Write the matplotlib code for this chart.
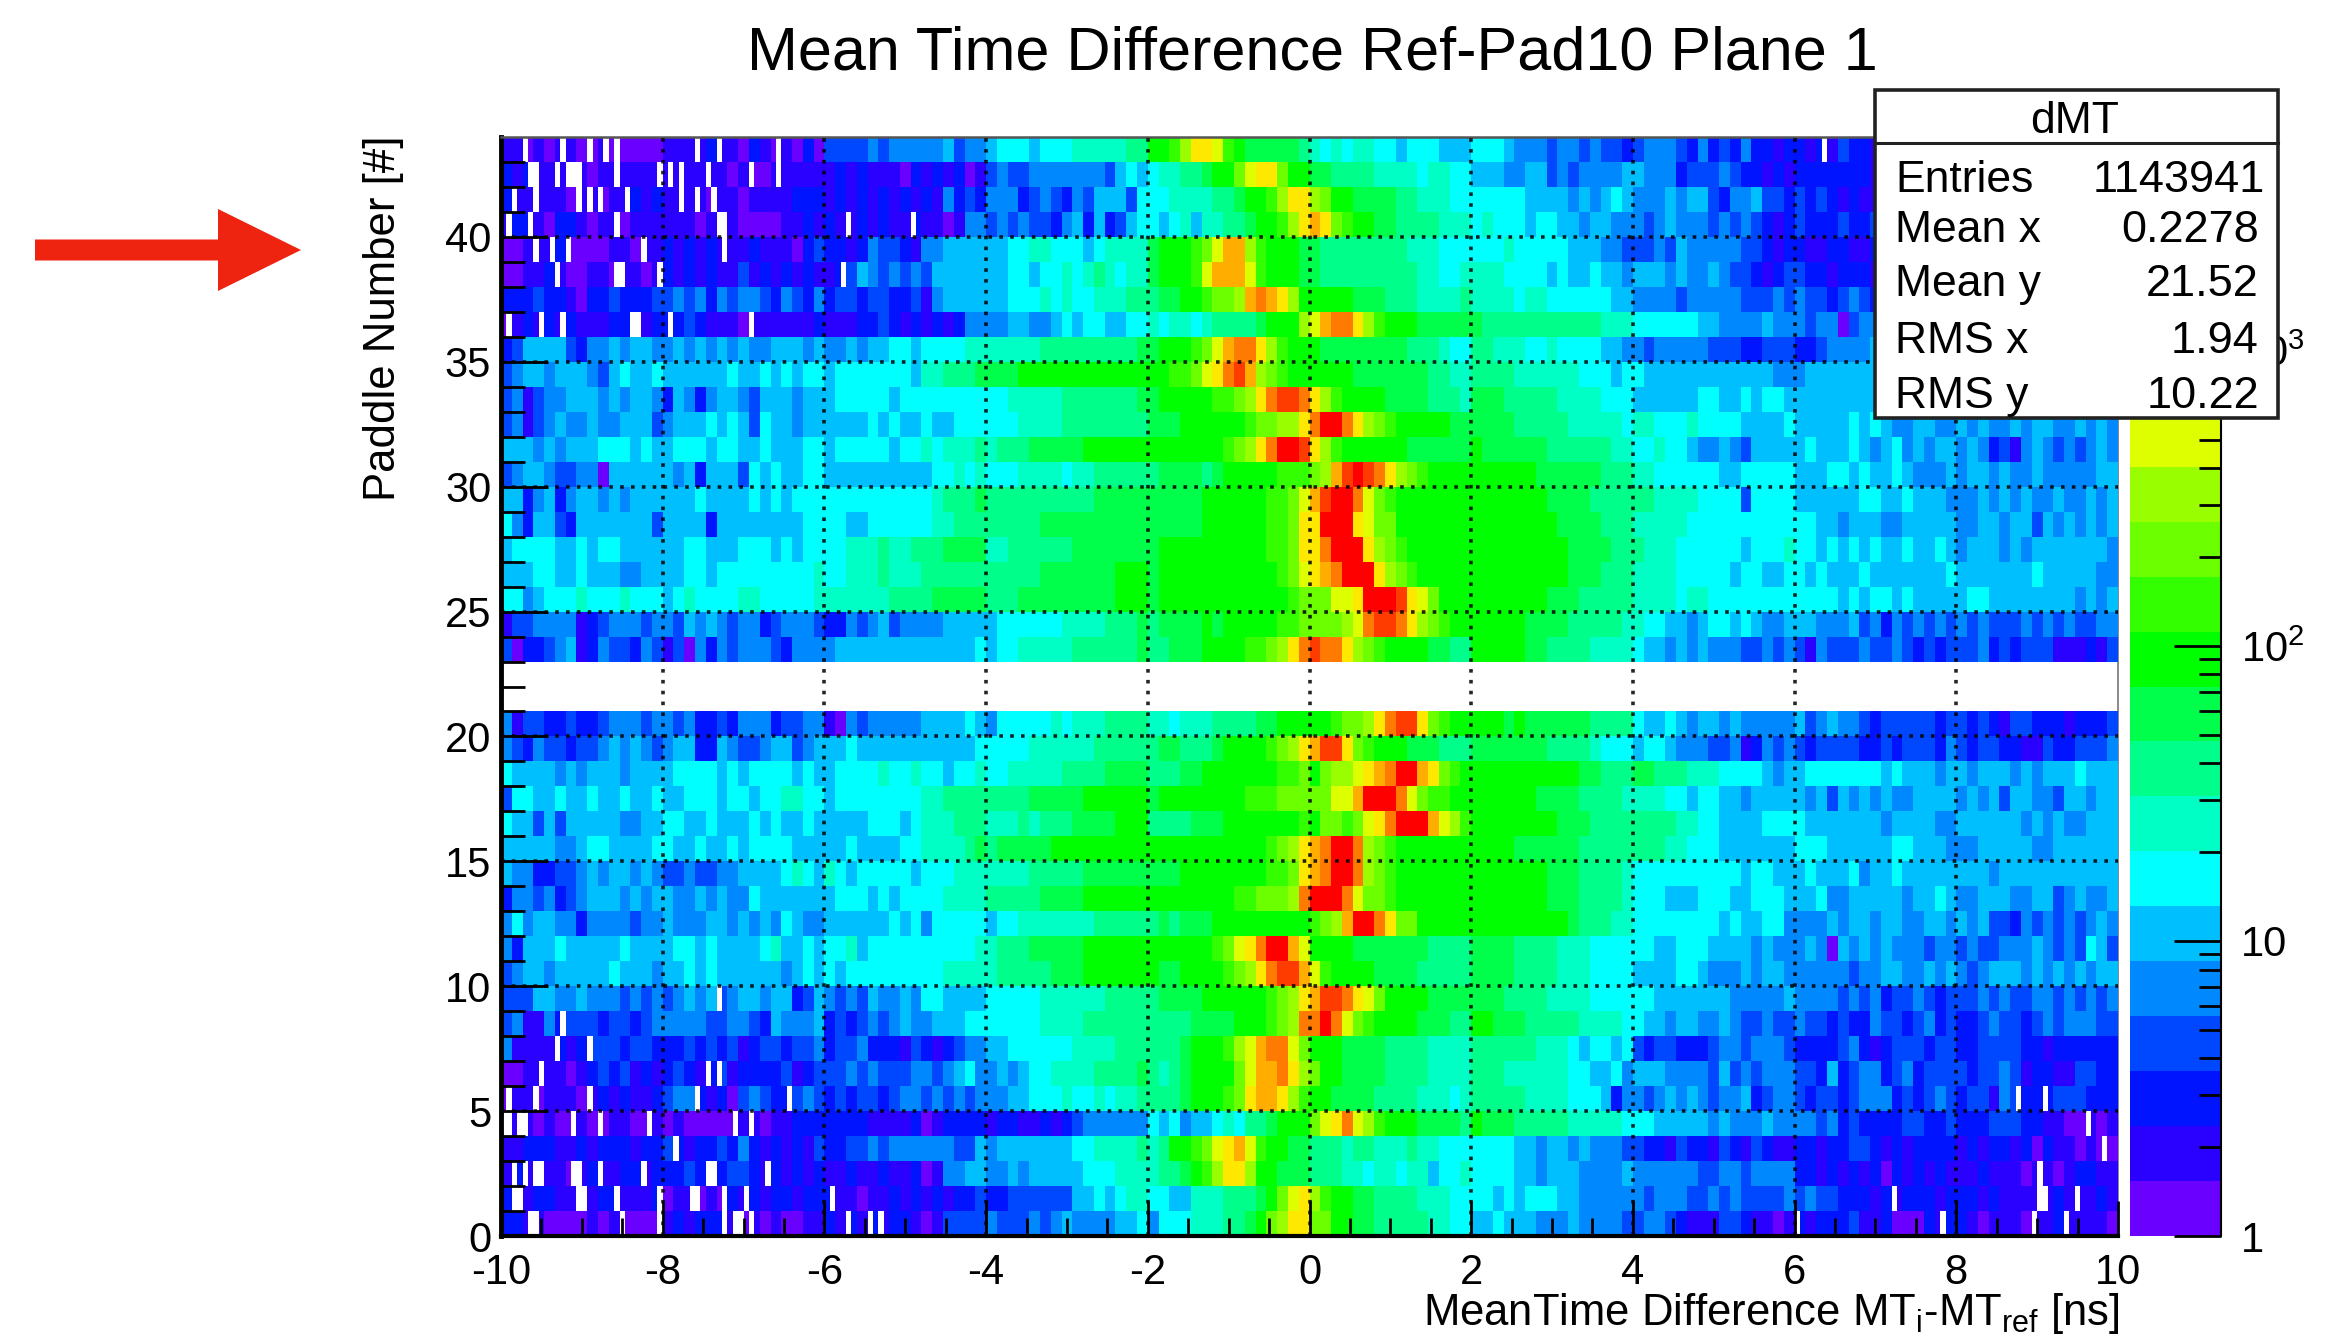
import numpy as np
import matplotlib
matplotlib.use("Agg")
import matplotlib.pyplot as plt
from matplotlib.colors import ListedColormap, BoundaryNorm
from matplotlib.patches import FancyArrow, Rectangle
from matplotlib.ticker import FixedLocator, NullFormatter

WIDTH, HEIGHT = 2346, 1335

plt.rcParams['font.family'] = ['Liberation Sans', 'DejaVu Sans']
plt.rcParams['mathtext.default'] = 'regular'
plt.rcParams['axes.unicode_minus'] = False

# Colour band of each cell. One string per paddle, from
# paddle 43 down to 0, one group per 2 ns. 0-9,a-j = band 0-19, . = empty
row_levels = [
    "110101100100000 111121102101020 333343444445344 566656667777788 aabdffeba999998 767677665666555 666544434434332 344432423242212 212132212121212 222222222222222",
    "212111110111111 111111010011111 121211102121201 343344444443565 677889aaceffcaa 998888777767766 555445534344445 544423334322121 222222212322222 222222222222222",
    "211111011011212 111101101111222 121212121214232 444234324355536 667777889aabdff dcaa99998877766 666665555454565 444545532445332 323212111211222 222222222222222",
    "122102210110111 111011100001121 211212112110144 343433245252356 656757788 9aabdf gfcbaa998888777 676665665545544 434544434343212 322232231121122 222222222222222",
    "001112000011011 212121112111023 221243321445555 556677666567777 9aaabcegg dbaaa9 988888888777666 666766666555443 334354444433212 211221122112222 222222222222222",
    "001121001101101 212121131212121 123543434355555 556656676787677 9aaabeggg ebaaa9 988888888877667 777666656556554 555454454332123 322122212222222 222222222222222",
    "222322102232223 343424344324324 233233223145555 556667676677788 899aabccdghgfda aaaa99988877778 777767766666655 444434444433343 433234322122222 222222222222222",
    "012121211122112 223211101111112 111223212121244 445544565665566 767767888 89aaad eghhfdbaaa99999 988888888888777 666666554444544 434403444444544 222222222222222",
    "235555324454554 454545454455545 445455665666677 777778888888889 9aaabcegh hfdbaa a99999999888766 887776676666554 434444433322333 223444453434444 222222222222222",
    "345545554356556 555555655656566 566666665778889 999aaaaaaaaaaaa aabbcefhigdcbaa aaaa99999998877 888877777766656 655555555555544 455555555555555 222222222222222",
    "341344555454554 254245543555455 566666566666666 667777788888889 9aaaaabbcdfhiih fdbaaaa99998887 999888887777666 555555665565665 555555555555555 444444444444444",
    "341345445445553 455565653655455 555565655655666 666777788888888 999aaaaaabccddf hjjhfdcbaaaaa99 999988888777776 776667666655556 555556565445544 545445455445454",
    "555454555666565 566656655655566 566666566767778 788899999aaaaaa aaaaaaabcdfhjji fdbaaaaaa999999 a99999988888877 667665445435555 565556545645455 454231454343454",
    "345543344055555 545255536565566 555555555566767 666777767788888 8999989aaaaabbb cdgijihfdcbaaaa aaaaaa999999888 776666665566666 555665655654445 455454454444455",
    "552452455454555 555655556565666 666666666678889 888888888899999 99999aaaaaabbce gijjhecbaaaaaaa aaaaaaa99998888 887777666636666 555555665565554 445454544544545",
    "642553255555553 555525555555566 665566666677888 888889999999999 99999aaaaaabbcf fjjjfeccaaaaaaa aaaaaaaa9999888 777776666666666 665545554455555 445545535454545",
    "566665565665555 556655566656566 667778778889999 778888889999999 9aaaaaaaaaabbcf fhjjjfdcbaaaaaa aaaaaaaaa999988 877766666656667 665656565565565 455545455555554",
    "555665565554455 556656666666667 667778777888888 888889999999aaa 9aaaaaaaaaaabce fghjjjfdcbaaaaa aaaaaaaaa999888 777766666566556 656555655555556 555555565555544",
    "664566676667666 567666677666667 777777888899999 888999999999aaa 9aaaaaaaaaaaabc cceefjjjifecaaa aaaaaaa99988888 777767766666666 666656566565555 566555555554545",
    "133444412344434 435454344234443 224345344445555 566666677778889 89999a9aaaaabbc cccdehiihfdcbaa aaaaa9999888887 766554566565445 554445342434343 434333434343344",
    "302234512433243 130424344432444 455555555555556 566777778888889 88999aaaabbcdfh ihhfdcbaaaa9988 aaaaa9988887777 655454544433434 314333433432323 334232333111213",
    "............... ............... ............... ............... ............... ............... ............... ............... ............... ...............",
    "............... ............... ............... ............... ............... ............... ............... ............... ............... ...............",
    "413322322344434 434223244423344 104344444555565 466666767778888 776777888899aaa aabccdfhiifcbaa aaa9a9999998888 655654554544444 534544323333323 323213322212223",
    "432433233454543 455225433455345 556555555555556 666677777788888 8998889aaaabcdf giifcbaaa999888 999999988887666 566544433412434 323333223233324 323322113223334",
    "655554545554555 566665656666565 566667667665667 667777788889999 88899aaaaaaabbc acddefghjjgfcba aaaaaaaaaa99888 998887776666545 566666665655545 545554545556555",
    "366556556556556 556665665667766 566666666778888 888899999aaaaaa 9aaaaaaaabbbccc cceegjjjhecbbaa aaaaaa999988887 777665665545555 545354545445555 454535544355455",
    "655353555554455 665565556565565 555566656777888 777878889999aaa 8888999aaaaaaab accbcefhjjjgedb aaaaaaaa9998888 888877665555666 655555554555544 555555454544555",
    "555554456655556 655655656666555 556555566777789 899999aaaaaaaaa aaaaaaaaaaabcdf ghjjhdcbaaaaaaa aaaa99999988888 888776665555555 666555555665554 445555544555555",
    "544223345455454 334334455556765 765666665666777 777788888999999 999aaaaaaaabbcf ghjjhdcbaaaaaaa aaaaaaa99988887 666666666656655 565556455655555 555455555555555",
    "244342345554545 544545446555555 566656566667777 888889999aaaaaa aaaaaaaabbcccdh jjjhecc baaaaaaa aaaaaaa99988887 666555666556665 556445555545565 445554455345445",
    "464554424444344 544455454546544 555555656466666 566777777788888 898999aaaaaaaaa bcdgjjhfccaaaaa aaaaaaaaa988877 666666665655664 444545545544554 545332434343454",
    "425556555556555 566565555675565 667566666666667 788899999aaaaaa aaaaaabcefhjjge aaaa99999998888 999988887776666 665566655554544 454054545444344 343344454343653",
    "345545555565554 556565555554565 656666666667777 788888999aaaaaa a99aaaabcdfhiig ebaaaa999988888 999988887776666 555566544454554 444443445544545 434555454545455",
    "333554454443434 345453455455235 434354454665555 666667777778888 89999aaaaaabcdf giihfecaaaa9999 999888877776666 665555555444445 444434342334323 334343344343434",
    "341142333233234 444433443254445 232343454455566 666667777888888 88889999aaabcdh hjhecbaaaa99988 aa9998888877776 655455445433433 433232243323423 223433234344433",
    "411112123332332 223232312332334 233422213212344 556666667777888 8889aaabdeghhec aaa999988887777 888888777656656 323322234434443 222234212333233 223333221222222",
    "001111012323121 232123122223123 334343334434564 454566777788889 8789aaaacegghfd caa999988887777 888777777665564 555444435343444 332523442342333 323343122113322",
    "011011101212112 344212034322343 232332344343434 445566676676778 8889aaabcfggfdb aa9999888877767 888887777666524 434545434452344 323323444232343 233143222333222",
    "111010010011001 010000011011222 222211112012222 122112123444444 656455676889aaa cefhedbaaa99998 a99988888777776 665555545444544 443423222233223 222333221100101",
    "112221121222122 321223242121213 223343444444335 455555556677778 78aabcefgebaa99 888788777877666 666655455454443 322132213213211 221223321212222 121221202110100",
    "121111012112212 223212332121212 112112112014455 445455555666777 7889abdffdaa999 888776776775667 666655455544445 444444334434444 221212120212121 112111011012211",
    "211221111221112 011010212122122 211011212121223 223333335565677 66557778889acef dbaa99888877766 665656665544444 434443343433334 343322212122212 221211111211121",
    "221100001010000 121222101010011 212121221013333 433343454444556 4666777889acdff ccaa99888887766 556555444544443 344321113321101 212223112000212 210111011211110",
]

# Empty single bins (white stripes), left edge in ns, per paddle
empty_bins = {
    43: [-9.67, -9.22, -8.91, -8.72, -8.56, -7.56, -7.30, -6.57, 6.38],
    42: [-9.63, -9.57, -9.32, -9.19, -9.12, -9.05, -8.55, -8.04, -7.90, -7.75, -7.42, -6.90, -6.57],
    41: [-9.85, -9.57, -9.03, -8.91, -8.75, -8.42, -7.75, -7.56, -7.37],
    40: [-9.90, -9.65, -8.56, -7.30, -7.23, -5.72, -4.90],
    39: [-9.56, -9.37, -9.18, -8.23, -7.23],
    38: [-9.32, -8.58, -8.52, -8.04, -5.77],
    36: [-9.93, -9.87, -9.52, -9.22, -8.38, -8.32, -7.90, -6.90],
    9: [-7.29],
    8: [-9.22],
    7: [-9.32, -8.90],
    6: [-9.52, -7.42, -7.29],
    5: [-9.90, -9.56, -8.90, -7.56, -6.43, 8.78, 9.12],
    4: [-9.95, -9.89, -9.76, -9.70, -9.08, -8.75, -8.18, -7.09, -6.90, 9.65],
    3: [-7.85, 9.80],
    2: [-9.84, -9.70, -9.57, -9.51, -9.10, -9.04, -8.75, -8.23, -7.42, -7.36, -6.72, 9.02],
    1: [-9.85, -9.79, -9.05, -8.99, -8.56, -8.04, -7.63, -7.57, -7.23, -6.95, -5.91, 7.22, 9.05, 9.11, 9.47, 9.53],
    0: [-9.65, -9.59, -8.52, -8.04, -7.23, -7.09, -7.03, -6.90, -5.72, -5.44, -5.29, 6.00, 7.84, 8.96, 9.34],
}

band_colors = [
    '#6a00ff', '#2a00ff', '#0014ff', '#0048ff', '#0088ff', '#00bfff', '#00ffff',
    '#00ffc4', '#00ff8a', '#00ff4a', '#00ff00', '#34ff00', '#6cff00', '#99ff00',
    '#deff00', '#ffe800', '#ffae00', '#ff7a00', '#ff3c00', '#ff0000',
]
z_max = 5300.0
x_ticks = [-10, -8, -6, -4, -2, 0, 2, 4, 6, 8, 10]
y_ticks = [0, 5, 10, 15, 20, 25, 30, 35, 40]

stat_names = ['Entries', 'Mean x', 'Mean y', 'RMS x', 'RMS y']
stat_values = ['1143941', '0.2278', '21.52', '1.94', '10.22']


def px_rect(left, top, right, bottom):
    return [left / WIDTH, 1 - bottom / HEIGHT, (right - left) / WIDTH, (bottom - top) / HEIGHT]


# Turn the band strings into counts on a 300x44 grid
band_edges = np.logspace(0, np.log10(z_max), len(band_colors) + 1)
band_mid = np.sqrt(band_edges[:-1] * band_edges[1:])

bad = []
grid = []
for i, row in enumerate(row_levels):
    groups = row.replace(' ', '')
    if len(groups) != 150:
        bad.append((43 - i, len(groups)))
    grid.append([np.nan if c == '.' else band_mid[int(c, 20)] for c in groups])
if bad:
    raise ValueError(f"rows with wrong length: {bad}")

counts = np.repeat(np.array(grid)[::-1], 2, axis=1)
x_edges = np.linspace(-10, 10, 301)
y_edges = np.arange(45)
for paddle, stripes in empty_bins.items():
    for x in stripes:
        counts[paddle, int((x + 10) / 20 * 300)] = np.nan

fig = plt.figure(figsize=(WIDTH / 100, HEIGHT / 100), dpi=100, facecolor='white')
ax = fig.add_axes(px_rect(501, 137, 2118, 1236))
cax = fig.add_axes(px_rect(2130, 137, 2221, 1236))
overlay = fig.add_axes([0, 0, 1, 1], zorder=5)
overlay.set_xlim(0, WIDTH)
overlay.set_ylim(HEIGHT, 0)
overlay.axis('off')

cmap = ListedColormap(band_colors)
norm = BoundaryNorm(band_edges, len(band_colors))

# Main histogram
ax.pcolormesh(x_edges, y_edges, np.ma.masked_invalid(counts), cmap=cmap, norm=norm,
              zorder=2, antialiased=False, linewidth=0)
ax.set_xlim(-10, 10)
ax.set_ylim(0, 44)
ax.set_xticks(x_ticks)
ax.set_yticks(y_ticks)
ax.xaxis.set_minor_locator(FixedLocator(np.arange(-10, 10.1, 0.5)))
ax.yaxis.set_minor_locator(FixedLocator(np.arange(0, 44)))
ax.tick_params(axis='x', which='major', direction='in', length=25, width=2, labelsize=30, pad=12.5)
ax.tick_params(axis='x', which='minor', direction='in', length=13, width=2)
ax.tick_params(axis='y', which='major', direction='in', length=34, width=2, labelsize=30, pad=7)
ax.tick_params(axis='y', which='minor', direction='in', length=17, width=2)

# ROOT style dotted grid
ax.set_axisbelow(False)
ax.grid(True, which='major', color='black', linewidth=2.6, linestyle=(0, (1, 2)), alpha=0.85)
ax.get_xgridlines()[0].set_visible(False)
ax.get_xgridlines()[-1].set_visible(False)
ax.get_ygridlines()[0].set_visible(False)

ax.spines['left'].set_linewidth(3.5)
ax.spines['bottom'].set_linewidth(3)
ax.spines['top'].set_linewidth(1.8)
ax.spines['top'].set_color('#555555')
ax.spines['right'].set_linewidth(1.2)
ax.spines['right'].set_color('#777777')
ax.spines['right'].set_zorder(1)

# Colour bar
cax.pcolormesh([0, 1], band_edges, band_mid[:, None], cmap=cmap, norm=norm,
               antialiased=False, linewidth=0)
cax.set_yscale('log')
cax.set_ylim(1, z_max)
cax.set_xlim(0, 1)
cax.set_xticks([])
cax.yaxis.tick_right()
cax.yaxis.set_major_locator(FixedLocator([1, 10, 100, 1000]))
cax.yaxis.set_minor_locator(FixedLocator([m * d for d in (1, 10, 100, 1000) for m in range(2, 10)]))
cax.yaxis.set_minor_formatter(NullFormatter())
cax.set_yticklabels(['1', '10', '$10^{2}$', '$10^{3}$'])
cax.tick_params(axis='y', which='major', direction='in', length=34, width=2, labelsize=30, pad=14.5)
cax.tick_params(axis='y', which='minor', direction='in', length=16, width=2)
for side in ['left', 'top', 'bottom']:
    cax.spines[side].set_visible(False)
cax.spines['right'].set_linewidth(1.5)

# Title and axis labels
overlay.text(1312, 70, 'Mean Time Difference Ref-Pad10 Plane 1', fontsize=44, ha='center', va='baseline')
overlay.text(384, 318, 'Paddle Number [#]', fontsize=31.5, rotation=90, ha='center', va='center')
overlay.text(2120, 1325, r'MeanTime Difference MT$_{i}$-MT$_{ref}$ [ns]', fontsize=31.4,
             ha='right', va='baseline')

# Stats box
overlay.add_patch(Rectangle((1875, 90), 403, 328, facecolor='white', edgecolor='#222222', linewidth=2.6))
overlay.plot([1875, 2278], [143, 143], color='#222222', linewidth=2.2)
overlay.text(2075, 133, 'dMT', fontsize=32, ha='center', va='baseline')
stat_baselines = [192, 242, 296, 353, 408]
stat_rights = [2265, 2259, 2259, 2259, 2259]
for name, value, y, right in zip(stat_names, stat_values, stat_baselines, stat_rights):
    overlay.text(1895, y, name, fontsize=32, ha='left', va='baseline')
    overlay.text(right, y, value, fontsize=32.5, ha='right', va='baseline')

# Red arrow pointing at paddle 40
overlay.add_patch(FancyArrow(35, 250, 266, 0, width=21, head_width=82, head_length=83,
                             length_includes_head=True, color='#ee2310', linewidth=0))

fig.savefig('out.png', dpi=100)
